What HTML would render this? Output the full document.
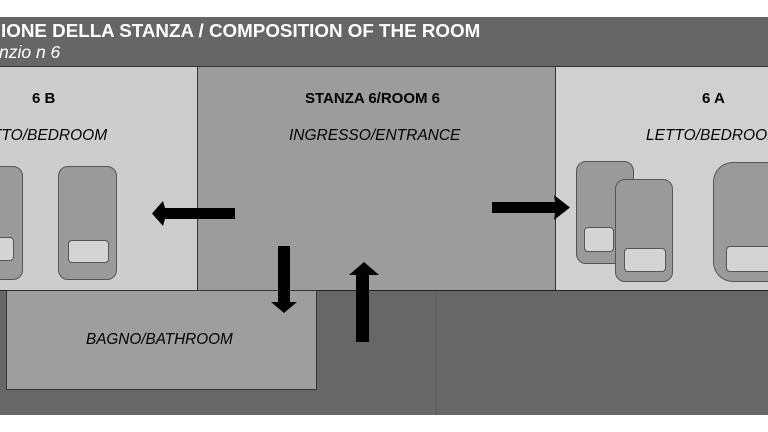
<!DOCTYPE html>
<html><head><style>
body{margin:0;width:768px;height:432px;background:#fff;position:relative;overflow:hidden;font-family:"Liberation Sans",sans-serif}
div{position:absolute;box-sizing:border-box}
.t{white-space:nowrap}
.bed{background:#9a9a9a;border:1.5px solid #555;border-radius:10px}
.pil{background:#d4d4d4;border:1.5px solid #555;border-radius:4px}
</style></head><body>
<div style="left:0;top:17px;width:768px;height:50px;background:#666;border-bottom:1px solid #333"></div>
<div class="t" style="left:1px;top:20px;color:#fff;font-weight:bold;font-size:18.8px">IONE DELLA STANZA / COMPOSITION OF THE ROOM</div>
<div class="t" style="left:-1px;top:42px;color:#fff;font-style:italic;font-size:17.5px">nzio n 6</div>
<div style="left:0;top:67px;width:198px;height:223px;background:#cdcdcd;border-right:1px solid #333"></div>
<div style="left:198px;top:67px;width:357px;height:223px;background:#9c9c9c"></div>
<div style="left:555px;top:67px;width:213px;height:223px;background:#d0d0d0;border-left:1px solid #333"></div>
<div style="left:0;top:290px;width:768px;height:125px;background:#676767;border-top:1px solid #222"></div>
<div style="left:436px;top:291px;width:1px;height:124px;background:#5a5a5a"></div>
<div style="left:6px;top:290px;width:311px;height:100px;background:#9e9e9e;border:1px solid #333"></div>
<div class="t" style="left:32px;top:90px;font-weight:bold;font-size:15px">6 B</div>
<div class="t" style="left:-8px;top:127px;font-style:italic;font-size:15.5px">TTO/BEDROOM</div>
<div class="t" style="left:305px;top:90px;font-weight:bold;font-size:15px">STANZA 6/ROOM 6</div>
<div class="t" style="left:289px;top:127px;font-style:italic;font-size:15.5px">INGRESSO/ENTRANCE</div>
<div class="t" style="left:702px;top:90px;font-weight:bold;font-size:15px">6 A</div>
<div class="t" style="left:646px;top:127px;font-style:italic;font-size:15.5px">LETTO/BEDROOM</div>
<div class="t" style="left:86px;top:331px;font-style:italic;font-size:15.3px">BAGNO/BATHROOM</div>
<div class="bed" style="left:-30px;top:166px;width:53px;height:114px"></div>
<div class="pil" style="left:-20px;top:237px;width:34px;height:24px"></div>
<div class="bed" style="left:58px;top:166px;width:59px;height:114px"></div>
<div class="pil" style="left:68px;top:240px;width:41px;height:23px"></div>
<div class="bed" style="left:576px;top:161px;width:58px;height:103px"></div>
<div class="pil" style="left:584px;top:227px;width:30px;height:25px"></div>
<div class="bed" style="left:615px;top:179px;width:58px;height:103px"></div>
<div class="pil" style="left:624px;top:248px;width:42px;height:24px"></div>
<div class="bed" style="left:713px;top:162px;width:80px;height:120px;border-radius:20px"></div>
<div class="pil" style="left:726px;top:246px;width:60px;height:26px"></div>
<svg width="768" height="432" style="position:absolute;left:0;top:0">
<polygon fill="#000" points="235,208 165,208 163,201 152,213.5 163,226 165,219 235,219"/>
<polygon fill="#000" points="492,202 555,202 554,195 570,207.5 554,220 555,213 492,213"/>
<polygon fill="#000" points="278,246 290,246 290,302 297,302 284,313 271,302 278,302"/>
<polygon fill="#000" points="356,342 369,342 369,275 379,275 364,262 349,275 356,275"/>
</svg>
</body></html>
